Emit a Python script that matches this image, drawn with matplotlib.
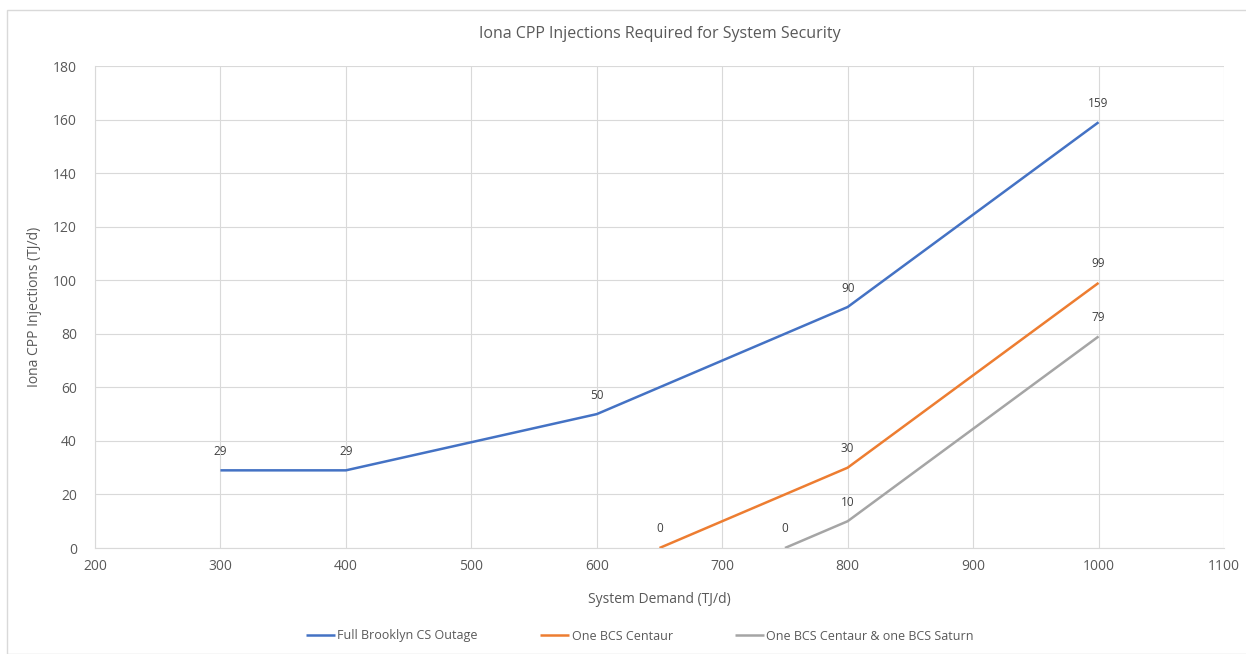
import matplotlib
matplotlib.use("Agg")
import matplotlib.pyplot as plt
from matplotlib.patches import Rectangle

plt.rcParams['font.family'] = ['Open Sans', 'DejaVu Sans']

title = "Iona CPP Injections Required for System Security"
xlabel = "System Demand (TJ/d)"
ylabel = "Iona CPP Injections (TJ/d)"

full_x = [300, 400, 600, 800, 1000]
full_y = [29, 29, 50, 90, 159]
centaur_x = [650, 800, 1000]
centaur_y = [0, 30, 99]
saturn_x = [750, 800, 1000]
saturn_y = [0, 10, 79]

series = [
    ("Full Brooklyn CS Outage", full_x, full_y, "#4472C4"),
    ("One BCS Centaur", centaur_x, centaur_y, "#ED7D31"),
    ("One BCS Centaur & one BCS Saturn", saturn_x, saturn_y, "#A5A5A5"),
]

W, H = 1246, 654
fig = plt.figure(figsize=(W / 100, H / 100), dpi=100)
fig.patches.append(Rectangle((7 / W, 0), 1.0, 1 - 10 / H, transform=fig.transFigure,
                             fill=False, edgecolor="#d9d9d9", linewidth=1.0))
ax = fig.add_axes([95 / W, (H - 548) / H, (1224 - 95) / W, (548 - 66) / H])

text_col = "#595959"
lines = []
for name, xs, ys, col in series:
    ln, = ax.plot(xs, ys, color=col, linewidth=1.8, label=name, solid_capstyle="butt")
    lines.append(ln)
    for x, y in zip(xs, ys):
        ax.annotate(str(y), (x, y), textcoords="offset points", xytext=(0, 9),
                    ha="center", va="bottom", fontsize=8.5, color="#404040")

ax.set_xlim(200, 1100)
ax.set_ylim(0, 180)
ax.set_xticks(range(200, 1101, 100))
ax.set_yticks(range(0, 181, 20))
ax.grid(True, color="#d9d9d9", linewidth=0.8)
ax.set_axisbelow(True)
for s in ["top", "right"]:
    ax.spines[s].set_visible(False)
ax.spines["left"].set_color("#d9d9d9")
ax.spines["bottom"].set_color("#d9d9d9")
ax.tick_params(length=0, labelsize=10, labelcolor=text_col)
ax.tick_params(axis="x", pad=8)
ax.tick_params(axis="y", pad=13)

ax.set_title(title, fontsize=11.5, color=text_col, pad=20)
ax.set_xlabel(xlabel, fontsize=10, color=text_col, labelpad=13)
ax.set_ylabel(ylabel, fontsize=10, color=text_col, labelpad=8)

fig.legend(handles=lines, loc="center", bbox_to_anchor=(640 / W, 1 - 636 / H), ncol=3,
           frameon=False, fontsize=9, labelcolor=text_col, handlelength=2.3,
           handletextpad=0.2, columnspacing=5)

fig.savefig("out.png", dpi=100)
